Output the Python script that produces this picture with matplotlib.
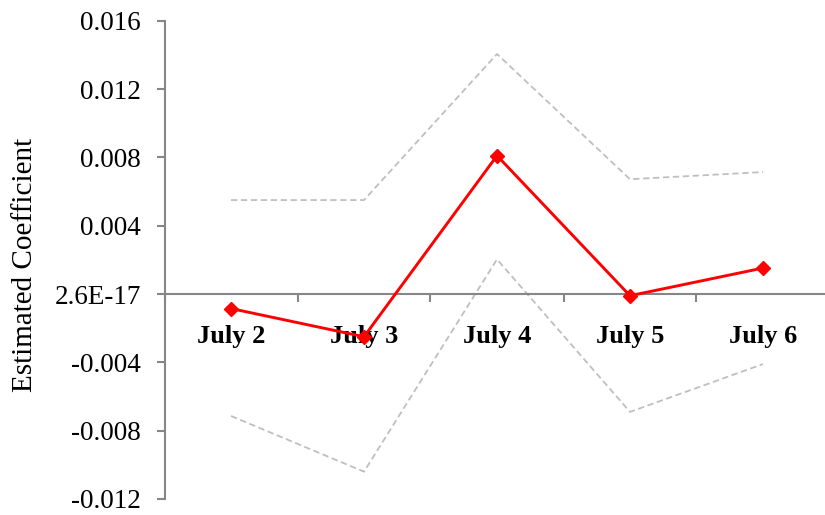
import matplotlib
matplotlib.use("Agg")
import matplotlib.pyplot as plt
from matplotlib.ticker import FixedLocator, FixedFormatter

categories = ["July 2", "July 3", "July 4", "July 5", "July 6"]
estimate = [-0.00085, -0.0025, 0.0081, -0.0001, 0.00152]
upper = [0.0055, 0.0055, 0.01405, 0.00672, 0.00714]
lower = [-0.00714, -0.0104, 0.00203, -0.0069, -0.0041]
ytick_values = [-0.012, -0.008, -0.004, 0.0, 0.004, 0.008, 0.012, 0.016]
ytick_labels = ["-0.012", "-0.008", "-0.004", "2.6E-17", "0.004", "0.008", "0.012", "0.016"]

plt.rcParams['font.family'] = ['Liberation Serif', 'DejaVu Serif']

fig = plt.figure(figsize=(8.25, 5.15), dpi=100)
ax = fig.add_axes([164.5/825, 16/515, 665/825, 478.3/515])

x = list(range(len(categories)))
gray = "#BFBFBF"
ax.plot(x, upper, color=gray, lw=1.3, dashes=(3.5, 2), zorder=2)
ax.plot(x, lower, color=gray, lw=1.3, dashes=(3.5, 2), zorder=2)
ax.plot(x, estimate, color="#FF0000", lw=2.1, marker="D", markersize=7, zorder=3)

ax.set_xlim(-0.5, len(categories) - 0.5)
ax.set_ylim(-0.012, 0.016)

for s in ["top", "right"]:
    ax.spines[s].set_visible(False)
axis_color = "#868686"
ax.spines["left"].set_color(axis_color)
ax.spines["left"].set_linewidth(1.5)
ax.spines["bottom"].set_color(axis_color)
ax.spines["bottom"].set_linewidth(1.5)
ax.spines["bottom"].set_position(("data", 0))

ax.yaxis.set_major_locator(FixedLocator(ytick_values))
ax.yaxis.set_major_formatter(FixedFormatter(ytick_labels))
ax.tick_params(axis="y", direction="out", length=6, width=1.5, color=axis_color,
               pad=11, labelsize=19.5)

bounds = [i - 0.5 for i in range(len(categories) + 1)]
ax.xaxis.set_major_locator(FixedLocator(bounds))
ax.xaxis.set_major_formatter(FixedFormatter([""] * len(bounds)))
ax.xaxis.set_minor_locator(FixedLocator(x))
ax.xaxis.set_minor_formatter(FixedFormatter(categories))
ax.tick_params(axis="x", which="major", direction="out", length=6, width=1.5, color=axis_color)
ax.tick_params(axis="x", which="minor", length=0, pad=22, labelsize=19)
for lbl in ax.xaxis.get_minorticklabels():
    lbl.set_fontweight("bold")

fig.text(25/825, 250/515, "Estimated Coefficient", rotation=90, ha="center", va="center",
         fontsize=21)

fig.savefig("out.png", dpi=100)
